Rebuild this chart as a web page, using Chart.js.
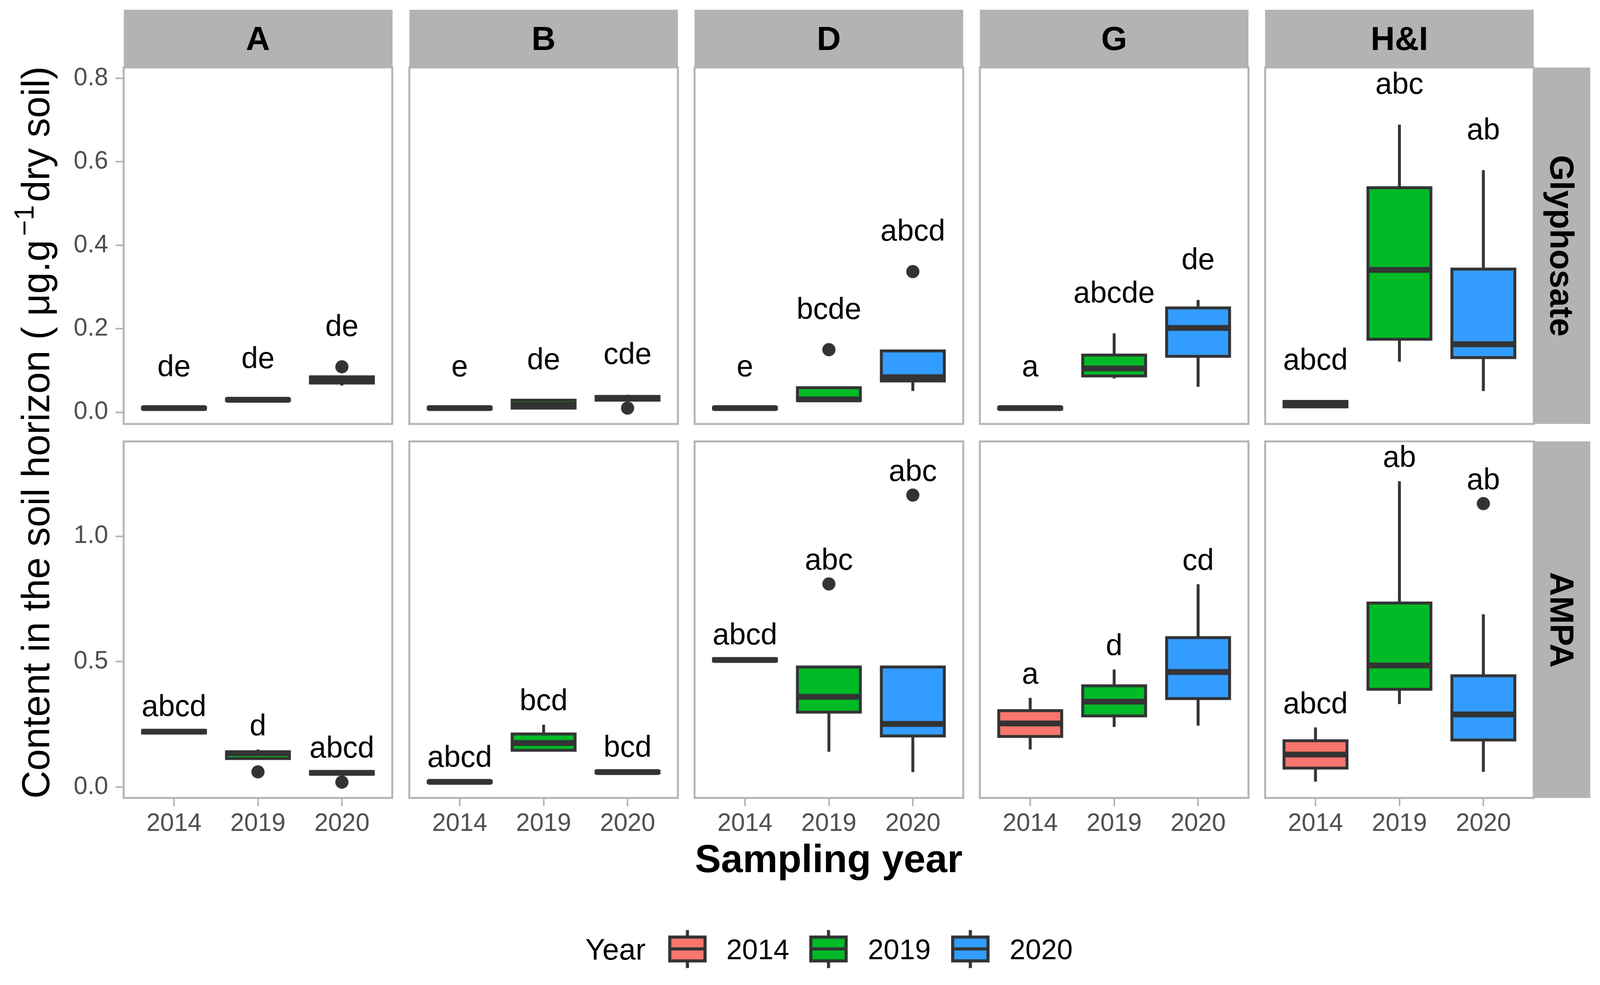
<!DOCTYPE html>
<html>
<head>
<meta charset="utf-8">
<title>Glyphosate and AMPA by sampling year</title>
<script src="https://cdn.jsdelivr.net/npm/chart.js@4.4.1/dist/chart.umd.min.js"></script>
<style>
  html, body { margin: 0; padding: 0; background: #fff; overflow: hidden; }
  #fig { position: relative; width: 4128px; height: 2522px; overflow: hidden;
         font-family: "Liberation Sans", Arial, Helvetica, sans-serif; }
  #fig canvas { position: absolute; }
  .strip { position: absolute; background: #B3B3B3; color: #000; font-weight: bold; font-size: 86px;
           display: flex; align-items: center; justify-content: center; }
  .strip.side { writing-mode: vertical-rl; }
  .txt { position: absolute; white-space: nowrap; line-height: 1; color: #000; }
  #ytitle { left: 92px; top: 1116px; font-size: 100px; transform: translate(-50%, -50%) rotate(-90deg); }
  #ytitle .sup { font-size: 70px; position: relative; top: -40px; margin: 0 8px 0 10px; }
  #xtitle { left: 2138px; top: 2165px; font-size: 101px; font-weight: bold; transform: translateX(-50%); }
  .legtxt { font-size: 73px; }
</style>
</head>
<body>
<div id="fig">
  <div class="txt" id="ytitle">Content in the soil horizon ( μg.g<span class="sup">−1</span>dry soil)</div>
  <div class="txt" id="xtitle">Sampling year</div>
</div>
<script>
'use strict';

// ---- data ----
const SITES = ['A', 'B', 'D', 'G', 'H&I'];
const COMPOUNDS = ['Glyphosate', 'AMPA'];
const YEARS = ['2014', '2019', '2020'];
const GLY_TICKS = [0, 0.2, 0.4, 0.6, 0.8];
const AMPA_TICKS = [0, 0.5, 1.0];

// one row per site, one [min, q1, median, q3, max] per year
const glyBoxes = [
  [[0.008, 0.008, 0.010, 0.012, 0.012], [0.028, 0.028, 0.030, 0.032, 0.032], [0.064, 0.070, 0.075, 0.085, 0.085]],
  [[0.008, 0.008, 0.010, 0.012, 0.012], [0.010, 0.010, 0.018, 0.029, 0.029], [0.029, 0.029, 0.034, 0.038, 0.042]],
  [[0.008, 0.008, 0.010, 0.012, 0.012], [0.026, 0.028, 0.031, 0.059, 0.059], [0.051, 0.075, 0.084, 0.147, 0.147]],
  [[0.008, 0.008, 0.010, 0.012, 0.012], [0.081, 0.087, 0.105, 0.137, 0.189], [0.061, 0.134, 0.202, 0.250, 0.269]],
  [[0.011, 0.013, 0.020, 0.026, 0.028], [0.121, 0.175, 0.341, 0.538, 0.689], [0.051, 0.131, 0.163, 0.343, 0.580]],
];
const glyOutliers = [
  [[], [], [0.109]],
  [[], [], [0.010]],
  [[], [0.150], [0.337]],
  [[], [], []],
  [[], [], []],
];
const glyLetters = [
  ['de', 'de', 'de'],
  ['e', 'de', 'cde'],
  ['e', 'bcde', 'abcd'],
  ['a', 'abcde', 'de'],
  ['abcd', 'abc', 'ab'],
];

const ampaBoxes = [
  [[0.216, 0.216, 0.221, 0.226, 0.226], [0.113, 0.114, 0.135, 0.141, 0.150], [0.052, 0.052, 0.057, 0.062, 0.062]],
  [[0.018, 0.018, 0.021, 0.024, 0.024], [0.144, 0.147, 0.176, 0.212, 0.249], [0.057, 0.057, 0.060, 0.064, 0.064]],
  [[0.503, 0.503, 0.507, 0.512, 0.512], [0.141, 0.299, 0.360, 0.479, 0.479], [0.060, 0.204, 0.252, 0.479, 0.479]],
  [[0.150, 0.202, 0.254, 0.305, 0.356], [0.240, 0.284, 0.341, 0.404, 0.469], [0.245, 0.353, 0.459, 0.596, 0.809]],
  [[0.022, 0.076, 0.130, 0.185, 0.238], [0.331, 0.390, 0.485, 0.734, 1.219], [0.061, 0.188, 0.290, 0.444, 0.689]],
];
const ampaOutliers = [
  [[], [0.061], [0.020]],
  [[], [], []],
  [[], [0.810], [1.164]],
  [[], [], []],
  [[], [], [1.130]],
];
const ampaLetters = [
  ['abcd', 'd', 'abcd'],
  ['abcd', 'bcd', 'bcd'],
  ['abcd', 'abc', 'abc'],
  ['a', 'd', 'cd'],
  ['abcd', 'ab', 'ab'],
];

// ---- look and layout ----
const FONT = '"Liberation Sans", Arial, Helvetica, sans-serif';
const INK = '#333333';
const FRAME = '#B3B3B3';
const YEAR_FILL = ['#F8766D', '#00BA26', '#339DFF'];

const PANEL_X = [319, 1056, 1792, 2528, 3264];
const PANEL_Y = [174, 1139];
const PANEL_W = 693;
const PANEL_H = 920;
const PAD = 60;       // canvas margin round every panel
const AXIS_W = 250;   // room for y tick labels (first column)
const AXIS_H = 150;   // room for x tick labels (bottom row)

const ROWS = [
  { boxes: glyBoxes, outliers: glyOutliers, letters: glyLetters, ticks: GLY_TICKS, min: -0.028, max: 0.826 },
  { boxes: ampaBoxes, outliers: ampaOutliers, letters: ampaLetters, ticks: AMPA_TICKS, min: -0.043, max: 1.378 },
];

Chart.defaults.font.family = FONT;

// whiskers, box outline, median and group letters on top of the bar fill
const boxDetail = {
  id: 'boxDetail',
  afterDatasetDraw(chart, args) {
    const ds = chart.data.datasets[args.index];
    if (!ds.stats) return;
    const ctx = chart.ctx;
    const py = (v) => chart.scales.y.getPixelForValue(v);
    ctx.save();
    ctx.strokeStyle = INK;
    ctx.lineCap = 'butt';
    args.meta.data.forEach((bar, i) => {
      const [lo, q1, med, q3, hi] = ds.stats[i];
      const x0 = bar.x - bar.width / 2;
      ctx.lineWidth = 7.5;
      ctx.beginPath();
      ctx.moveTo(bar.x, py(q3)); ctx.lineTo(bar.x, py(hi));
      ctx.moveTo(bar.x, py(q1)); ctx.lineTo(bar.x, py(lo));
      ctx.stroke();
      ctx.strokeRect(x0, py(q3), bar.width, py(q1) - py(q3));
      ctx.lineWidth = 15;
      ctx.beginPath();
      ctx.moveTo(x0, py(med)); ctx.lineTo(x0 + bar.width, py(med));
      ctx.stroke();

      // letter sits 0.1 above the highest value of the group
      const top = Math.max(hi, ...ds.outliers[i]);
      ctx.fillStyle = '#000';
      ctx.font = '77px ' + FONT;
      ctx.textAlign = 'center';
      ctx.textBaseline = 'middle';
      ctx.fillText(ds.letters[i], bar.x, py(top + 0.1) + 7);
    });
    ctx.restore();
  },
  afterDraw(chart) {
    const { ctx, chartArea: a } = chart;
    ctx.save();
    ctx.strokeStyle = FRAME;
    ctx.lineWidth = 5;
    ctx.strokeRect(a.left, a.top, a.right - a.left, a.bottom - a.top);
    ctx.restore();
  },
};

function makePanel(cv, row, c, showX, showY) {
  const boxes = row.boxes[c];
  const outliers = row.outliers[c];
  const tickGrid = { drawOnChartArea: false, tickLength: 21, lineWidth: 4, color: FRAME, offset: false };
  const tickFont = { family: FONT, size: 64 };

  new Chart(cv, {
    type: 'bar',
    data: {
      datasets: [
        {
          type: 'scatter',
          data: outliers.flatMap((list, i) => list.map((v) => ({ x: i + 1, y: v }))),
          pointRadius: 17,
          pointHoverRadius: 17,
          pointBackgroundColor: INK,
          pointBorderWidth: 0,
          order: 0,
        },
        {
          type: 'bar',
          data: boxes.map((b, i) => ({ x: i + 1, y: [b[1], b[3]] })),
          backgroundColor: YEAR_FILL,
          borderWidth: 0,
          categoryPercentage: 1,
          barPercentage: 0.75,
          order: 1,
          stats: boxes,
          outliers: outliers,
          letters: row.letters[c],
        },
      ],
    },
    options: {
      responsive: false,
      animation: false,
      devicePixelRatio: 1,
      events: [],
      layout: { padding: PAD },
      plugins: { legend: { display: false }, tooltip: { enabled: false } },
      scales: {
        x: {
          type: 'linear',
          min: 0.4,
          max: 3.6,
          offset: false,
          display: showX,
          afterBuildTicks: (s) => { s.ticks = YEARS.map((_, i) => ({ value: i + 1 })); },
          afterFit: (s) => { if (showX) s.height = AXIS_H; },
          ticks: { callback: (v, i) => YEARS[i], color: '#4D4D4D', font: tickFont, padding: 8, maxRotation: 0, autoSkip: false },
          grid: tickGrid,
          border: { display: false },
        },
        y: {
          min: row.min,
          max: row.max,
          display: showY,
          afterBuildTicks: (s) => { s.ticks = row.ticks.map((v) => ({ value: v })); },
          afterFit: (s) => { if (showY) s.width = AXIS_W; },
          ticks: { callback: (v) => Number(v).toFixed(1), color: '#4D4D4D', font: tickFont, padding: 19 },
          grid: tickGrid,
          border: { display: false },
        },
      },
    },
    plugins: [boxDetail],
  });
}

const fig = document.getElementById('fig');

// keep the whole figure inside the viewport if it is a little smaller than the figure
const fit = Math.min(window.innerWidth / 4128, window.innerHeight / 2522);
if (fit < 1) {
  fig.style.transformOrigin = '0 0';
  fig.style.transform = 'scale(' + fit + ')';
}

ROWS.forEach((row, r) => {
  SITES.forEach((site, c) => {
    const left = c === 0 ? AXIS_W : 0;
    const bottom = r === 1 ? AXIS_H : 0;
    const cv = document.createElement('canvas');
    cv.width = PAD * 2 + left + PANEL_W;
    cv.height = PAD * 2 + PANEL_H + bottom;
    cv.style.left = (PANEL_X[c] - PAD - left) + 'px';
    cv.style.top = (PANEL_Y[r] - PAD) + 'px';
    fig.appendChild(cv);
    makePanel(cv, row, c, r === 1, c === 0);
  });
});

// facet strips
function addStrip(text, x, y, w, h, side) {
  const d = document.createElement('div');
  d.className = side ? 'strip side' : 'strip';
  d.style.left = x + 'px';
  d.style.top = y + 'px';
  d.style.width = w + 'px';
  d.style.height = h + 'px';
  d.textContent = text;
  fig.appendChild(d);
}
SITES.forEach((s, c) => addStrip(s, PANEL_X[c], 25, PANEL_W, PANEL_Y[0] - 25, false));
COMPOUNDS.forEach((s, r) => addStrip(s, PANEL_X[4] + PANEL_W, PANEL_Y[r], 146, PANEL_H, true));

// legend
function addText(text, x, y, cls) {
  const d = document.createElement('div');
  d.className = 'txt ' + (cls || '');
  d.style.left = x + 'px';
  d.style.top = y + 'px';
  d.textContent = text;
  fig.appendChild(d);
  return d;
}
addText('Year', 1510, 2411).style.fontSize = '77px';

const KEY_X = [1724, 2088, 2454];
const LABEL_X = [1874, 2239, 2605];
YEARS.forEach((yr, i) => {
  const k = document.createElement('canvas');
  k.width = 99;
  k.height = 98;
  k.style.left = KEY_X[i] + 'px';
  k.style.top = '2400px';
  fig.appendChild(k);
  const g = k.getContext('2d');
  g.fillStyle = YEAR_FILL[i];
  g.fillRect(4, 18, 91, 61.5);
  g.strokeStyle = INK;
  g.lineWidth = 8;
  g.strokeRect(4, 18, 91, 61.5);
  g.beginPath();
  g.moveTo(4, 48.5); g.lineTo(95, 48.5);
  g.moveTo(49.5, 0); g.lineTo(49.5, 18);
  g.moveTo(49.5, 79.5); g.lineTo(49.5, 98);
  g.stroke();
  addText(yr, LABEL_X[i], 2413, 'legtxt');
});
</script>
</body>
</html>
